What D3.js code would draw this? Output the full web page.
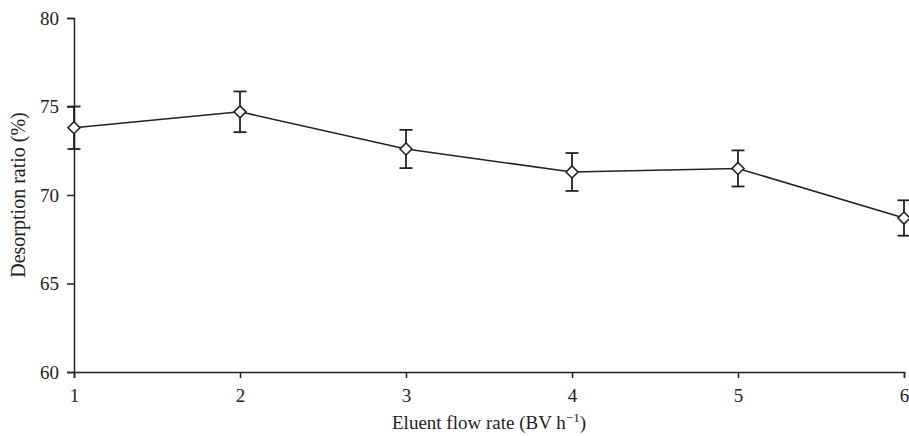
<!DOCTYPE html>
<html>
<head>
<meta charset="utf-8">
<script src="https://cdn.jsdelivr.net/npm/d3@7/dist/d3.min.js"></script>
<style>
  html, body { margin: 0; padding: 0; background: #fff; }
  svg { display: block; }
  text { font-family: "Liberation Serif", "Times New Roman", serif; fill: #222; }
</style>
</head>
<body>
<svg id="chart" width="909" height="436"></svg>
<script>
const flowRates = [1, 2, 3, 4, 5, 6];
const desorption = [73.8, 74.7, 72.6, 71.3, 71.5, 68.7];
const errors = [1.2, 1.15, 1.08, 1.07, 1.02, 1.0];
const xTicks = [1, 2, 3, 4, 5, 6];
const yTicks = [60, 65, 70, 75, 80];

const svg = d3.select("#chart");
const margin = { left: 74, right: 5, top: 18, bottom: 64 };
const W = 909, H = 436;
const FS = 19;

const x = d3.scaleLinear().domain([1, 6]).range([margin.left, W - margin.right]);
const y = d3.scaleLinear().domain([60, 80]).range([H - margin.bottom, margin.top]);

const stroke = "#222";

const xAxis = svg.append("g")
  .attr("transform", `translate(0,${y(60)})`)
  .call(d3.axisBottom(x).tickValues(xTicks).tickFormat(d3.format("d")).tickSizeOuter(0).tickSize(6).tickPadding(11));
const yAxis = svg.append("g")
  .attr("transform", `translate(${x(1)},0)`)
  .call(d3.axisLeft(y).tickValues(yTicks).tickFormat(d3.format("d")).tickSizeOuter(0).tickSize(7).tickPadding(8));

[xAxis, yAxis].forEach(g => {
  g.attr("font-size", FS).attr("font-family", '"Liberation Serif", serif');
  g.selectAll("path.domain").attr("stroke", stroke).attr("stroke-width", 1.5);
  g.selectAll(".tick line").attr("stroke", stroke).attr("stroke-width", 1.5);
  g.selectAll(".tick text").attr("font-size", FS).attr("fill", "#222");
});

const data = flowRates.map((f, i) => ({ f, v: desorption[i], e: errors[i] }));

// line
svg.append("path")
  .datum(data)
  .attr("fill", "none")
  .attr("stroke", stroke)
  .attr("stroke-width", 1.5)
  .attr("d", d3.line().x(d => x(d.f)).y(d => y(d.v)));

// error bars
const eb = svg.append("g").attr("stroke", stroke).attr("stroke-width", 1.8);
data.forEach(d => {
  const cx = x(d.f);
  eb.append("line").attr("x1", cx).attr("x2", cx).attr("y1", y(d.v + d.e)).attr("y2", y(d.v - d.e));
  eb.append("line").attr("x1", cx - 6.5).attr("x2", cx + 6.5).attr("y1", y(d.v + d.e)).attr("y2", y(d.v + d.e));
  eb.append("line").attr("x1", cx - 6.5).attr("x2", cx + 6.5).attr("y1", y(d.v - d.e)).attr("y2", y(d.v - d.e));
});

// diamond markers
svg.append("g").selectAll("path")
  .data(data)
  .join("path")
  .attr("transform", d => `translate(${x(d.f)},${y(d.v)})`)
  .attr("d", "M0,-6L6,0L0,6L-6,0Z")
  .attr("fill", "#fff")
  .attr("stroke", stroke)
  .attr("stroke-width", 1.6);

// axis titles
const xt = svg.append("text")
  .attr("x", (x(1) + x(6)) / 2)
  .attr("y", 429)
  .attr("text-anchor", "middle")
  .attr("font-size", FS);
xt.append("tspan").text("Eluent flow rate (BV h");
xt.append("tspan").attr("dy", -7).attr("font-size", 13).text("\u22121");
xt.append("tspan").attr("dy", 7).text(")");

svg.append("text")
  .attr("transform", `translate(25,${(y(60) + y(80)) / 2}) rotate(-90)`)
  .attr("text-anchor", "middle")
  .attr("font-size", 20)
  .text("Desorption ratio (%)");
</script>
</body>
</html>
